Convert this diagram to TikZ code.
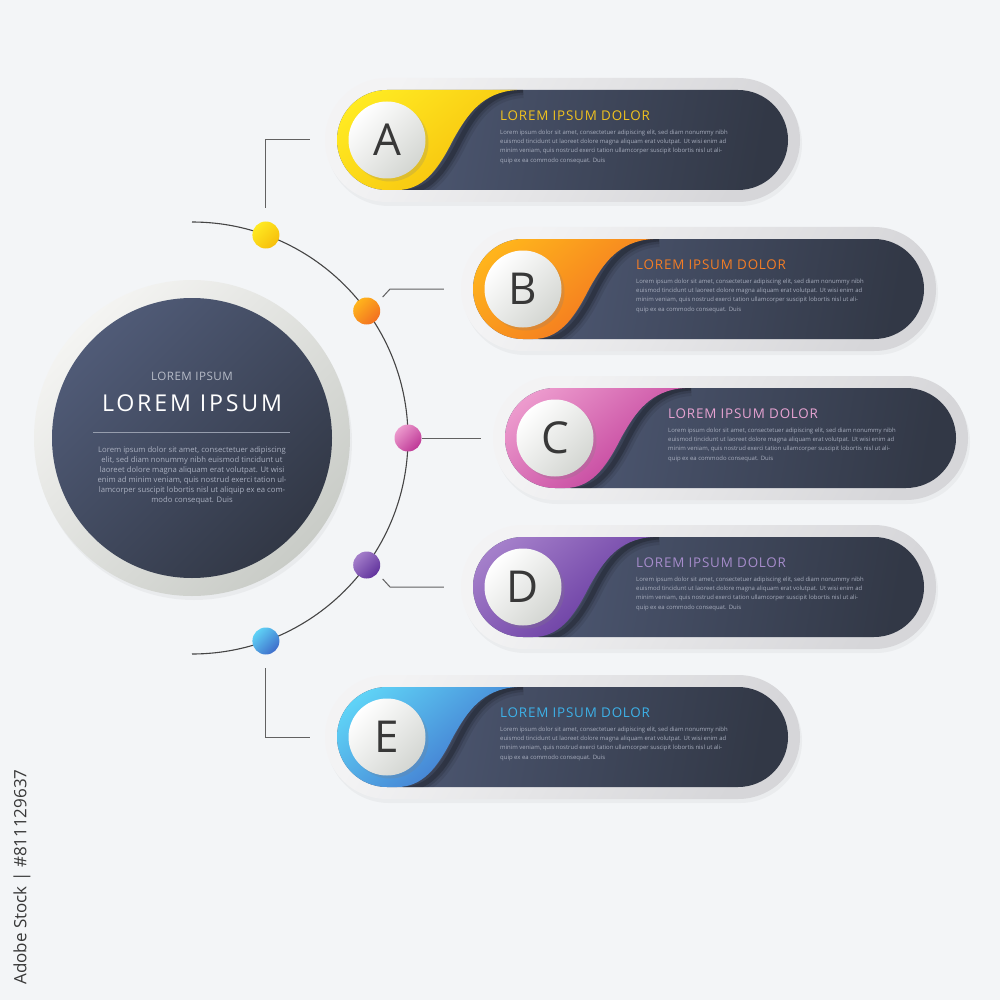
\documentclass[tikz,border=0pt]{standalone}
\usepackage{fontspec}
\setmainfont{Open Sans}
\usetikzlibrary{shadows}
\definecolor{bg}{HTML}{F3F5F7}
\definecolor{ringL}{HTML}{F4F4F2}
\definecolor{ringD}{HTML}{C9CCC7}
\definecolor{navyL}{HTML}{505B77}
\definecolor{navyD}{HTML}{323846}
\definecolor{pillL}{HTML}{F3F3F4}
\definecolor{pillD}{HTML}{D6D6D9}
\definecolor{bodytxt}{HTML}{A9AFBF}
\definecolor{hubsub}{HTML}{B6BBC7}
\definecolor{linecol}{HTML}{454545}
\definecolor{yelL}{HTML}{FFEA22}\definecolor{yelD}{HTML}{F6BE0B}\definecolor{yelT}{HTML}{F0C21E}
\definecolor{orL}{HTML}{FFB41C}\definecolor{orD}{HTML}{F26F21}\definecolor{orT}{HTML}{F47D25}
\definecolor{pkL}{HTML}{EC9ACD}\definecolor{pkD}{HTML}{BE3796}\definecolor{pkT}{HTML}{E7A3D2}
\definecolor{puL}{HTML}{A47FCA}\definecolor{puD}{HTML}{60329C}\definecolor{puT}{HTML}{A68CCB}
\definecolor{blL}{HTML}{5FD2F6}\definecolor{blD}{HTML}{3E6CCA}\definecolor{blT}{HTML}{3DB1E8}
\tikzset{
  outerpill/.style={rectangle, minimum width=475pt, minimum height=124pt, inner sep=0pt,
    rounded corners=62pt, top color=pillL, bottom color=pillD, shading angle=60,
    drop shadow={opacity=0.07, shadow xshift=2pt, shadow yshift=-4pt}},
  lettercircle/.style={circle, minimum size=77pt, inner sep=0pt, top color=white,
    bottom color=ringD!80, shading angle=45, text=black!78,
    font=\fontsize{44}{44}\selectfont,
    drop shadow={opacity=0.22, shadow xshift=3pt, shadow yshift=-3pt}},
  cardtitle/.style={anchor=west, inner sep=0pt, font=\fontsize{13.4}{15}\selectfont\addfontfeature{LetterSpace=6}},
  cardbody/.style={anchor=north west, inner sep=0pt, align=left, text=bodytxt,
    font=\fontsize{5.95}{9.3}\selectfont},
  dot/.style={circle, minimum size=27pt, inner sep=0pt, shading angle=45},
  conn/.style={draw=linecol!85, line width=1pt},
  arcline/.style={draw=linecol, line width=1.1pt}
}
\newcommand\infocard[7]{%
\begin{scope}[shift={(#2,#3)}]
  \node[outerpill] (#1) at (175.5,0) {};
  \shade[left color=navyL, right color=navyD, shading angle=80, rounded corners=50pt] (-50,-50) rectangle (401,50);
  \begin{scope}
    \clip[rounded corners=50pt] (-50,-50) rectangle (401,50);
    \foreach \w/\o in {16/0.08, 10/0.12, 5/0.2}{
      \draw[black, opacity=\o, line width=\w pt] (136,-50) .. controls (101,-48) and (86,-25) .. (72,2) .. controls (56,34) and (41,52) .. (16,52);
    }
    \shade[top color=#5, bottom color=#6, shading angle=40] (-60,-50) -- (130,-50) .. controls (95,-48) and (80,-25) .. (66,0) .. controls (50,32) and (35,50) .. (10,50) -- (-60,50) -- cycle;
  \end{scope}
  \node[lettercircle] (#1l) at (0,0) {#4};
  \node[cardtitle, text=#7] (#1t) at (113,-24) {LOREM IPSUM DOLOR};
  \node[cardbody] (#1b) at (113,-10.5) {Lorem ipsum dolor sit amet, consectetuer adipiscing elit, sed diam nonummy nibh\\
euismod tincidunt ut laoreet dolore magna aliquam erat volutpat. Ut wisi enim ad\\
minim veniam, quis nostrud exerci tation ullamcorper suscipit lobortis nisl ut ali-\\
quip ex ea commodo consequat. Duis};
\end{scope}}
\begin{document}
\begin{tikzpicture}[x=1pt,y=-1pt]
\useasboundingbox[fill=bg] (0,0) rectangle (1000,1000);

% hub
\node[circle, minimum size=316pt, inner sep=0pt, top color=ringL, bottom color=ringD, shading angle=45,
  drop shadow={opacity=0.08, shadow xshift=2pt, shadow yshift=-4pt}] (hub) at (192,438) {};
\node[circle, minimum size=280pt, inner sep=0pt, top color=navyL, bottom color=navyD, shading angle=45] (hubin) at (192,438) {};
\node[text=hubsub, font=\fontsize{11.6}{13}\selectfont\addfontfeature{LetterSpace=4}] (hubsubt) at (192,376) {LOREM IPSUM};
\node[text=white, font=\fontsize{23.2}{26}\selectfont\addfontfeature{LetterSpace=12}] (hubtitle) at (192,403) {LOREM IPSUM};
\coordinate (hl1) at (93,432);
\coordinate (hl2) at (290,432);
\draw[draw=navyL!60!white, line width=0.6pt] (hl1) -- (hl2);
\node[anchor=north, inner sep=0pt, align=center, text=bodytxt, font=\fontsize{7.7}{10}\selectfont] (hubbody) at (192,446.5)
{Lorem ipsum dolor sit amet, consectetuer adipiscing\\
elit, sed diam nonummy nibh euismod tincidunt ut\\
laoreet dolore magna aliquam erat volutpat. Ut wisi\\
enim ad minim veniam, quis nostrud exerci tation ul-\\
lamcorper suscipit lobortis nisl ut aliquip ex ea com-\\
modo consequat. Duis};

% arc
\coordinate (arcTop) at (192,222);
\draw[arcline] (arcTop) arc[start angle=-90, end angle=90, radius=216];

% cards
\infocard{cardA}{387}{140}{A}{yelL}{yelD}{yelT}
\infocard{cardB}{523}{289}{B}{orL}{orD}{orT}
\infocard{cardC}{555}{438}{C}{pkL}{pkD}{pkT}
\infocard{cardD}{523}{587}{D}{puL}{puD}{puT}
\infocard{cardE}{387}{737}{E}{blL}{blD}{blT}

% dots
\node[dot, top color=yelL, bottom color=yelD, shading angle=45] (dotA) at (265.9,235) {};
\node[dot, top color=orL, bottom color=orD, shading angle=45] (dotB) at (366.7,311) {};
\node[dot, top color=pkL, bottom color=pkD, shading angle=45] (dotC) at (408,438) {};
\node[dot, top color=puL, bottom color=puD, shading angle=45] (dotD) at (366.7,565) {};
\node[dot, top color=blL, bottom color=blD, shading angle=45] (dotE) at (265.9,641) {};

% connectors
\coordinate (b1) at (390,289);
\coordinate (d1) at (390,587);
\draw[conn, shorten <=13.5pt, shorten >=15pt] (dotA) |- (cardA.west);
\draw[conn, shorten >=17pt] ([shift={(16,-14)}]dotB.center) -- (b1) -- (cardB.west);
\draw[conn, shorten >=12pt] (dotC) -- (cardC.west);
\draw[conn, shorten >=17pt] ([shift={(16,14)}]dotD.center) -- (d1) -- (cardD.west);
\draw[conn, shorten <=13.5pt, shorten >=15pt] (dotE) |- (cardE.west);

% side id
\node[rotate=90, text=black!78, font=\fontsize{17}{17}\selectfont] (stockid) at (22,877) {Adobe Stock | \#811129637};
\end{tikzpicture}
\end{document}
